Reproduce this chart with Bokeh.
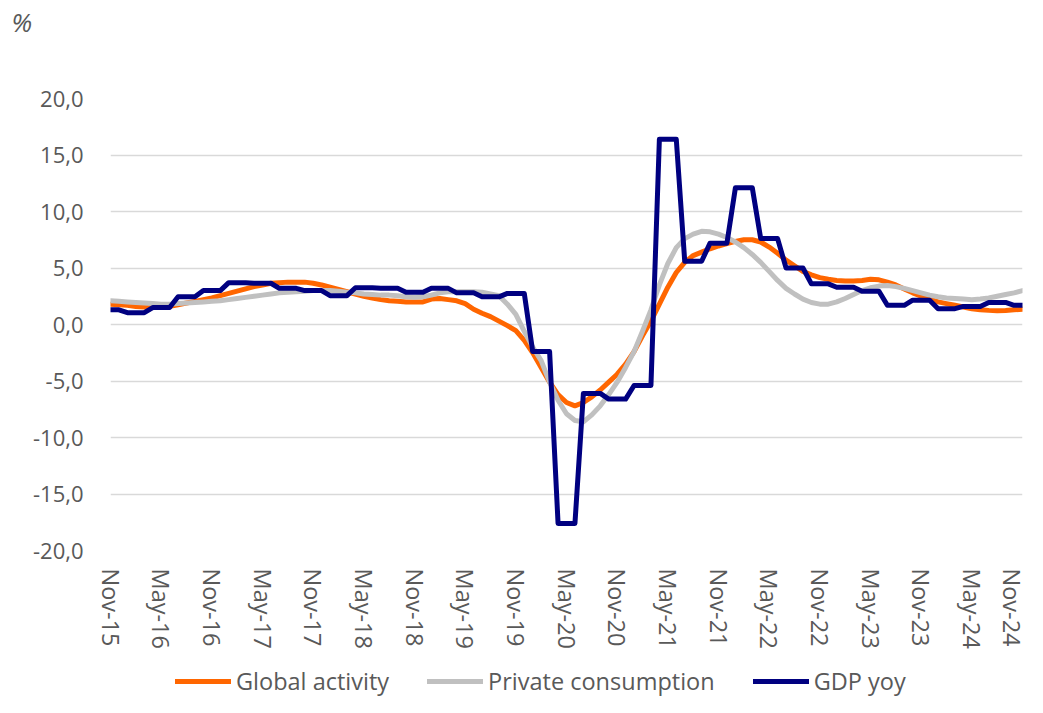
from bokeh.plotting import figure
from bokeh.layouts import column
from bokeh.models import FixedTicker, CustomJSTickFormatter, Legend, LegendItem, Title
from bokeh.embed import file_html
from bokeh.resources import INLINE

tick_labels = ["Nov-15", "May-16", "Nov-16", "May-17", "Nov-17", "May-18", "Nov-18",
               "May-19", "Nov-19", "May-20", "Nov-20", "May-21", "Nov-21", "May-22",
               "Nov-22", "May-23", "Nov-23", "May-24", "Nov-24"]

y_ticks = [-20, -15, -10, -5, 0, 5, 10, 15, 20]

series_names = ["Global activity", "Private consumption", "GDP yoy"]

global_activity = [
    1.8, 1.75, 1.7, 1.6, 1.55, 1.5, 1.5, 1.6, 1.75, 1.9,
    2.05, 2.2, 2.35, 2.55, 2.75, 2.95, 3.15, 3.35, 3.5, 3.65,
    3.7, 3.75, 3.75, 3.75, 3.65, 3.5, 3.3, 3.1, 2.9, 2.7,
    2.5, 2.35, 2.2, 2.1, 2.05, 2.0, 2.0, 2.0, 2.25, 2.3,
    2.2, 2.1, 1.85, 1.35, 1.0, 0.7, 0.3, -0.1, -0.55, -1.4,
    -2.5, -3.8, -5.1, -6.2, -6.9, -7.2, -6.9, -6.4, -5.8, -5.1,
    -4.4, -3.5, -2.4, -1.0, 0.3, 1.8, 3.3, 4.6, 5.5, 6.1,
    6.4, 6.7, 6.95, 7.15, 7.35, 7.5, 7.5, 7.3, 6.85, 6.3,
    5.7, 5.2, 4.7, 4.4, 4.15, 4.0, 3.9, 3.85, 3.85, 3.9,
    4.0, 3.95, 3.75, 3.5, 3.15, 2.8, 2.5, 2.25, 2.0, 1.85,
    1.7, 1.55, 1.4, 1.3, 1.25, 1.22, 1.24, 1.3, 1.35]

private_consumption = [
    2.1, 2.05, 2.0, 1.95, 1.9, 1.85, 1.8, 1.8, 1.85, 1.9,
    1.95, 2.0, 2.05, 2.1, 2.2, 2.3, 2.4, 2.5, 2.6, 2.7,
    2.8, 2.85, 2.9, 2.95, 3.0, 3.0, 3.0, 2.95, 2.85, 2.8,
    2.7, 2.65, 2.6, 2.6, 2.55, 2.45, 2.4, 2.45, 2.6, 2.8,
    2.9, 2.9, 2.9, 2.9, 2.85, 2.7, 2.55, 1.8, 0.9, -0.6,
    -2.0, -3.2, -5.1, -6.7, -7.9, -8.5, -8.6, -8.0, -7.2, -6.2,
    -5.1, -3.8, -2.4, -0.6, 1.3, 3.5, 5.4, 6.8, 7.6, 8.0,
    8.25, 8.2, 8.0, 7.7, 7.3, 6.8, 6.2, 5.5, 4.7, 3.9,
    3.2, 2.7, 2.25, 1.95, 1.8, 1.8, 2.0, 2.3, 2.65, 3.0,
    3.25, 3.4, 3.45, 3.35, 3.2, 3.0, 2.8, 2.6, 2.45, 2.35,
    2.3, 2.25, 2.2, 2.25, 2.35, 2.5, 2.65, 2.8, 3.0]

gdp_yoy = [
    1.3, 1.3,
    1.05, 1.05, 1.05,
    1.5, 1.5, 1.5,
    2.45, 2.45, 2.45,
    3.0, 3.0, 3.0,
    3.7, 3.7, 3.7,
    3.65, 3.65, 3.65,
    3.2, 3.2, 3.2,
    3.0, 3.0, 3.0,
    2.55, 2.55, 2.55,
    3.25, 3.25, 3.25,
    3.2, 3.2, 3.2,
    2.85, 2.85, 2.85,
    3.2, 3.2, 3.2,
    2.8, 2.8, 2.8,
    2.45, 2.45, 2.45,
    2.75, 2.75, 2.75,
    -2.4, -2.4, -2.4,
    -17.6, -17.6, -17.6,
    -6.1, -6.1, -6.1,
    -6.6, -6.6, -6.6,
    -5.4, -5.4, -5.4,
    16.4, 16.4, 16.4,
    5.6, 5.6, 5.6,
    7.2, 7.2, 7.2,
    12.1, 12.1, 12.1,
    7.6, 7.6, 7.6,
    5.0, 5.0, 5.0,
    3.6, 3.6, 3.6,
    3.3, 3.3, 3.3,
    2.95, 2.95, 2.95,
    1.7, 1.7, 1.7,
    2.15, 2.15, 2.15,
    1.4, 1.4, 1.4,
    1.6, 1.6, 1.6,
    1.95, 1.95, 1.95,
    1.7, 1.7]

colors = ["#ff6600", "#c0c0c0", "#000080"]

months = list(range(len(gdp_yoy)))
tick_positions = list(range(0, len(gdp_yoy), 6))

FONT = "Open Sans"
TXT = "#595959"
W = 1027

p = figure(width=W, height=651, output_backend="svg", toolbar_location=None,
           x_range=(0, len(gdp_yoy) - 1), y_range=(-20, 20),
           min_border_left=110, min_border_right=5, min_border_top=98,
           min_border_bottom=101)
p.title.visible = False
# spacer title (nearest the frame), then the "%" unit title above it
p.add_layout(Title(text=" ", text_font_size="1px", standoff=56), "above")
p.add_layout(Title(text="%", text_font=FONT, text_font_size="26px",
                   text_font_style="italic", text_color=TXT, align="left",
                   offset=-99, standoff=0, vertical_align="bottom"), "above")
p.outline_line_color = None
p.background_fill_color = "white"
p.border_fill_color = "white"

p.xgrid.visible = False
p.ygrid.grid_line_color = "#d9d9d9"
p.ygrid.grid_line_width = 1.5
p.ygrid.ticker = FixedTicker(ticks=y_ticks)

p.yaxis.ticker = FixedTicker(ticks=y_ticks)
p.yaxis.formatter = CustomJSTickFormatter(code="return tick.toFixed(1).replace('.', ',');")
p.xaxis.ticker = FixedTicker(ticks=tick_positions)
p.xaxis.major_label_overrides = {t: lab for t, lab in zip(tick_positions, tick_labels)}
p.xaxis.major_label_orientation = "vertical"

for ax in (p.xaxis[0], p.yaxis[0]):
    ax.axis_line_color = None
    ax.major_tick_line_color = None
    ax.minor_tick_line_color = None
    ax.major_tick_out = 0
    ax.major_tick_in = 0
    ax.major_label_text_font = FONT
    ax.major_label_text_color = TXT
p.yaxis.major_label_text_font_size = "22px"
p.xaxis.major_label_text_font_size = "23.5px"
p.yaxis.major_label_standoff = 27
p.xaxis.major_label_standoff = 18

for vals, col in zip([global_activity, private_consumption, gdp_yoy], colors):
    p.line(months, vals, line_color=col, line_width=5,
           line_join="round", line_cap="round")

# legend strip below the chart (its frame is aligned with the chart frame)
q = figure(width=W, height=46, output_backend="svg", toolbar_location=None,
           x_range=(0, 1), y_range=(0, 1), x_axis_location=None,
           y_axis_location=None, min_border=0)
q.outline_line_color = None
q.xgrid.visible = False
q.ygrid.visible = False
items = []
for name, col in zip(series_names, colors):
    r = q.line([-5, -4], [-5, -4], line_color=col, line_width=5, line_cap="round")
    items.append(LegendItem(label=name, renderers=[r]))
legend = Legend(items=items, orientation="horizontal", location=(65, 0),
                glyph_width=56, glyph_height=20, label_standoff=5, spacing=38,
                padding=0, margin=0, border_line_color=None,
                background_fill_alpha=0,
                label_text_font=FONT, label_text_font_size="23.5px",
                label_text_color=TXT)
q.add_layout(legend, "center")

layout = column(p, q, spacing=0)
open("out.html", "w").write(file_html(layout, INLINE))
